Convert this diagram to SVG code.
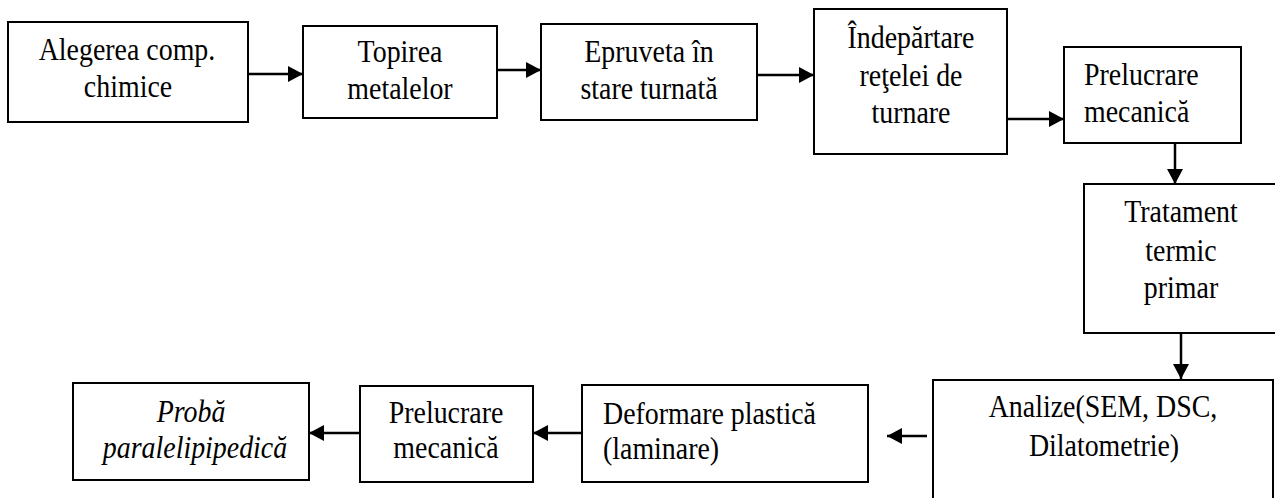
<svg xmlns="http://www.w3.org/2000/svg" width="1275" height="498" viewBox="0 0 1275 498">
<defs>
<style>
.box{fill:#fff;stroke:#000;stroke-width:2}
.t{font-family:"Liberation Serif","Times New Roman",serif;font-size:31px;fill:#000}
.c{text-anchor:middle}
.i{font-style:italic}
.ln{stroke:#000;stroke-width:2.5;fill:none}
</style>
<marker id="ah" markerUnits="userSpaceOnUse" markerWidth="15" markerHeight="16" refX="15" refY="8" orient="auto">
<path d="M0,0 L15,8 L0,16 z" fill="#000"/>
</marker>
</defs>
<rect width="1275" height="498" fill="#fff"/>
<g id="connectors">
<line class="ln" x1="248" y1="74" x2="303" y2="74" marker-end="url(#ah)"/>
<line class="ln" x1="497" y1="70" x2="541" y2="70" marker-end="url(#ah)"/>
<line class="ln" x1="757" y1="75" x2="814" y2="75" marker-end="url(#ah)"/>
<line class="ln" x1="1007" y1="119" x2="1064" y2="119" marker-end="url(#ah)"/>
<line class="ln" x1="1175" y1="143" x2="1175" y2="184" marker-end="url(#ah)"/>
<line class="ln" x1="1181" y1="333" x2="1181" y2="379" marker-end="url(#ah)"/>
<line class="ln" x1="927" y1="436" x2="887" y2="436" marker-end="url(#ah)"/>
<line class="ln" x1="582" y1="433" x2="533" y2="433" marker-end="url(#ah)"/>
<line class="ln" x1="360" y1="433" x2="309" y2="433" marker-end="url(#ah)"/>
</g>
<g id="n1"><rect class="box" x="8" y="22" width="240" height="100"/>
<text class="t c" transform="translate(127,0) scale(0.9,1)" x="0" y="60">Alegerea comp.</text>
<text class="t c" transform="translate(128,0) scale(0.9,1)" x="0" y="97">chimice</text></g>
<g id="n2"><rect class="box" x="303" y="26" width="194" height="92"/>
<text class="t c" transform="translate(400,0) scale(0.9,1)" x="0" y="62">Topirea</text>
<text class="t c" transform="translate(400,0) scale(0.9,1)" x="0" y="99">metalelor</text></g>
<g id="n3"><rect class="box" x="541" y="24" width="216" height="96"/>
<text class="t c" transform="translate(649,0) scale(0.9,1)" x="0" y="62">Epruveta în</text>
<text class="t c" transform="translate(649,0) scale(0.9,1)" x="0" y="99">stare turnată</text></g>
<g id="n4"><rect class="box" x="814" y="9" width="193" height="145"/>
<text class="t c" transform="translate(911,0) scale(0.9,1)" x="0" y="48">Îndepărtare</text>
<text class="t c" transform="translate(911,0) scale(0.9,1)" x="0" y="86">reţelei de</text>
<text class="t c" transform="translate(911,0) scale(0.9,1)" x="0" y="123">turnare</text></g>
<g id="n5"><rect class="box" x="1064" y="47" width="177" height="96"/>
<text class="t" transform="translate(1084,0) scale(0.9,1)" x="0" y="85">Prelucrare</text>
<text class="t" transform="translate(1084,0) scale(0.9,1)" x="0" y="122">mecanică</text></g>
<g id="n6"><rect class="box" x="1084" y="184" width="200" height="149"/>
<text class="t c" transform="translate(1181,0) scale(0.9,1)" x="0" y="222">Tratament</text>
<text class="t c" transform="translate(1181,0) scale(0.9,1)" x="0" y="261">termic</text>
<text class="t c" transform="translate(1181,0) scale(0.9,1)" x="0" y="298">primar</text></g>
<g id="n7"><rect class="box" x="933" y="380" width="340" height="130"/>
<text class="t c" transform="translate(1103,0) scale(0.9,1)" x="0" y="417">Analize(SEM, DSC,</text>
<text class="t c" transform="translate(1104,0) scale(0.9,1)" x="0" y="456">Dilatometrie)</text></g>
<g id="n8"><rect class="box" x="582" y="385" width="286" height="97"/>
<text class="t" transform="translate(603,0) scale(0.9,1)" x="0" y="424">Deformare plastică</text>
<text class="t" transform="translate(603,0) scale(0.9,1)" x="0" y="459">(laminare)</text></g>
<g id="n9"><rect class="box" x="360" y="386" width="173" height="96"/>
<text class="t c" transform="translate(446,0) scale(0.9,1)" x="0" y="423">Prelucrare</text>
<text class="t c" transform="translate(446,0) scale(0.9,1)" x="0" y="458">mecanică</text></g>
<g id="n10"><rect class="box" x="73" y="383" width="236" height="97"/>
<text class="t c i" transform="translate(191,0) scale(0.9,1)" x="0" y="422">Probă</text>
<text class="t c i" transform="translate(195,0) scale(0.9,1)" x="0" y="458">paralelipipedică</text></g>
</svg>
